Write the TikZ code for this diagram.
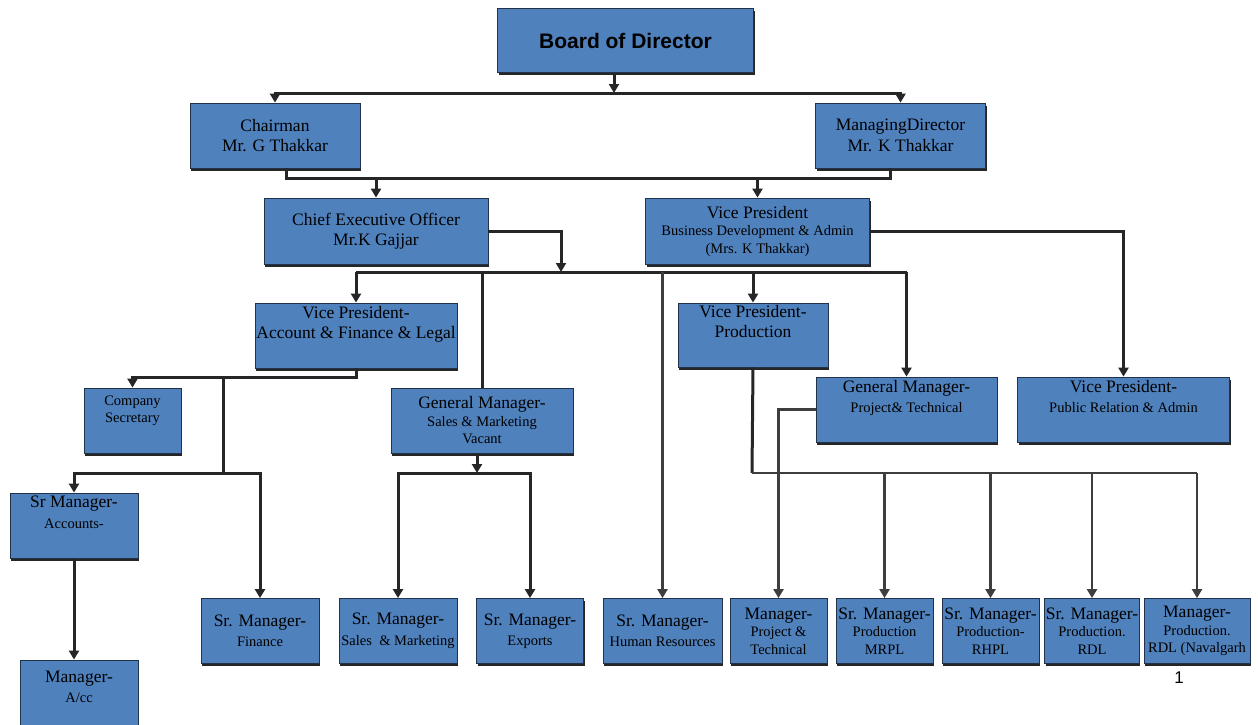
\documentclass[tikz,border=0pt]{standalone}
\usepackage{fontspec}
\setmainfont{Liberation Serif}
\newfontfamily\boardfont{Liberation Sans}
\usetikzlibrary{arrows.meta,shadows}
\definecolor{boxblue}{RGB}{79,129,189}
\definecolor{boxline}{RGB}{35,50,75}
\definecolor{wire}{RGB}{38,38,38}
\definecolor{wiregray}{RGB}{62,62,62}
\newcommand\mainsz{\fontsize{17.5}{20.5}\selectfont}
\newcommand\smsz{\fontsize{14.5}{17}\selectfont}
\newcommand\padline{\\\strut}

\begin{document}
\begin{tikzpicture}[x=1pt,y=-1pt,
  box/.style={draw=boxline, fill=boxblue, line width=0.8pt, align=center, font=\mainsz, inner sep=1pt,
    drop shadow={shadow xshift=1.2pt, shadow yshift=-2.5pt, fill=black!85, opacity=1}},
  wh/.style 2 args={minimum width=#1pt, minimum height=#2pt},
  tight/.style={font=\fontsize{17.5}{17.5}\selectfont},
  bus/.style={draw=wire, line width=3pt},
  arr/.style={bus, -{Triangle[length=9pt,width=10pt]}},
  fine/.style={draw=wiregray, line width=2.5pt},
  finearr/.style={fine, -{Triangle[length=9pt,width=10pt]}}]
  \clip (0,0) rectangle (1258,725);

  \node[box, wh={256}{64}, font=\boardfont\bfseries\fontsize{21}{24}\selectfont] (board) at (625.5,40.5) {Board of Director};
  \node[box, wh={170}{65}] (chair) at (275,135.5) {Chairman\\Mr. G Thakkar};
  \node[box, wh={170}{65}] (md) at (900.5,135.5) {ManagingDirector\\Mr. K Thakkar};

  \node[box, wh={224}{66}] (ceo) at (376,231) {Chief Executive Officer\\Mr.K Gajjar};
  \node[box, wh={224}{66}, tight] (vpbd) at (757.5,231) {Vice President\\{\smsz Business Development \& Admin}\\{\smsz (Mrs. K Thakkar)}};

  \node[box, wh={202}{65}] (vpaf) at (356,335.5) {Vice President-\\Account \& Finance \& Legal\padline};
  \node[box, wh={150}{64}] (vpp) at (753,335) {Vice President-\\Production\padline};

  \node[box, wh={97}{65}, font=\smsz] (cs) at (132.5,420.5) {Company\\Secretary\padline};
  \node[box, wh={182}{65}, tight] (gms) at (482,420.5) {General Manager-\\{\smsz Sales \& Marketing}\\{\smsz Vacant}};
  \node[box, wh={181}{65}] (gmpt) at (906.5,409.5) {General Manager-\\{\smsz Project\& Technical}\padline};
  \node[box, wh={212}{65}] (vppr) at (1123.5,409.5) {Vice President-\\{\smsz Public Relation \& Admin}\padline};

  \node[box, wh={128}{65}] (sma) at (74,525.5) {Sr Manager-\\{\smsz Accounts-}\padline};
  \node[box, wh={118}{80}] (maa) at (79,700) {Manager-\\{\smsz A/cc}\padline};

  \node[box, wh={118}{65}] (smf) at (260,631) {Sr. Manager-\\{\smsz Finance}};
  \node[box, wh={118}{65}] (sms) at (398,631) {Sr. Manager-\\{\smsz Sales \ \& Marketing}};
  \node[box, wh={107}{65}] (smx) at (530,631) {Sr. Manager-\\{\smsz Exports}};
  \node[box, wh={119}{65}] (hr) at (662.5,631) {Sr. Manager-\\{\smsz Human Resources}};
  \node[box, wh={97}{65}, tight] (mpt) at (778.5,631) {Manager-\\{\smsz Project \&}\\{\smsz Technical}};
  \node[box, wh={97}{65}, tight] (mrpl) at (884.5,631) {Sr. Manager-\\{\smsz Production}\\{\smsz MRPL}};
  \node[box, wh={97}{65}, tight] (rhpl) at (990.5,631) {Sr. Manager-\\{\smsz Production-}\\{\smsz RHPL}};
  \node[box, wh={86}{65}, tight] (rdl) at (1092,631) {Sr. Manager-\\{\smsz Production.}\\{\smsz RDL}};
  \node[box, wh={106}{65}, tight] (nav) at (1197,631) {Manager-\\{\smsz Production.}\\{\smsz RDL (Navalgarh}};

  \node[font=\boardfont\fontsize{17}{17}\selectfont] (pagenum) at (1179,678) {1};

  \coordinate (j1) at (614,93);
  \coordinate (c1) at (286,178);
  \coordinate (c2) at (890,178);
  \coordinate (j3) at (561,272);
  \coordinate (j4) at (223,377);
  \coordinate (j5) at (223,473);
  \coordinate (j6) at (477,473);
  \coordinate (j7) at (752,473);

  \draw[arr] (board.south -| j1) -- (j1);
  \draw[arr] (j1) -| (chair.north);
  \draw[arr] (j1) -| (md.north);

  \draw[bus] (chair.south -| c1) -- (c1) -- (c2) -- (md.south -| c2);
  \draw[arr] (ceo.north |- c1) -- (ceo.north);
  \draw[arr] (vpbd.north |- c1) -- (vpbd.north);

  \draw[arr] (ceo.east) -| (j3);
  \draw[bus] (vpaf.north |- j3) -- (gmpt.north |- j3);
  \draw[arr] (vpaf.north |- j3) -- (vpaf.north);
  \draw[bus] (gms.north |- j3) -- (gms.north);
  \draw[finearr] (hr.north |- j3) -- (hr.north);
  \draw[arr] (vpp.north |- j3) -- (vpp.north);
  \draw[arr] (gmpt.north |- j3) -- (gmpt.north);
  \draw[arr] (vpbd.east) -| (vppr.north);

  \draw[arr] (vpaf.south) |- (j4) -| (cs.north);
  \draw[bus] (j4) -- (j5);
  \draw[arr] (j5) -| (sma.north);
  \draw[arr] (j5) -| (smf.north);
  \draw[arr] (sma.south) -- (sma.south |- maa.north);

  \draw[arr] (gms.south -| j6) -- (j6);
  \draw[arr] (j6) -| (sms.north);
  \draw[arr] (j6) -| (smx.north);

  \draw[bus] (vpp.south) -- (j7);
  \draw[fine] (j7) -- (j7 -| nav.north);
  \foreach \n in {mrpl,rhpl,rdl,nav}
    \draw[finearr] (j7 -| \n.north) -- (\n.north);
  \draw[finearr] (gmpt.west) -| (mpt.north);
\end{tikzpicture}
\end{document}
